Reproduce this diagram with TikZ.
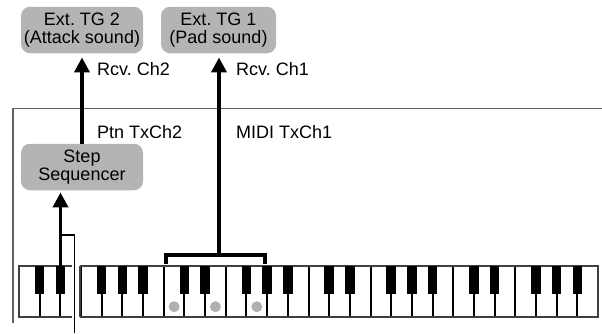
\documentclass[tikz,border=0pt]{standalone}
\usepackage{fontspec}
\setmainfont{Liberation Sans}
\usetikzlibrary{arrows.meta}
\definecolor{boxgray}{HTML}{B4B4B4}
\definecolor{framegray}{HTML}{606060}
\definecolor{dotgray}{HTML}{B0B0B0}
\definecolor{kbborder}{HTML}{404040}
\frenchspacing
\begin{document}
\frenchspacing
\begin{tikzpicture}[x=1pt,y=-1pt,
  tg/.style={draw=none, fill=boxgray, rounded corners=9pt, minimum height=46.5pt,
    inner sep=0pt, align=center, font=\fontsize{18}{17.2}\selectfont},
  lbl/.style={anchor=base west, inner sep=0pt, font=\fontsize{18}{18}\selectfont},
  flow/.style={line width=3.6pt, -{Triangle[width=15pt,length=15pt]}},
  bracketline/.style={line width=3.2pt},
  tapline/.style={line width=1.5pt},
  whitekey/.style={draw=black, line width=2pt},
  blackkey/.style={fill=black},
  kbframe/.style={draw=kbborder, line width=2pt},
  dot/.style={fill=dotgray}]
\useasboundingbox (0,0) rectangle (602,333);

% outer frame (instrument panel)
\draw[framegray, line width=1.5pt] (13,323) -- (13,108.5) -- (602,108.5);

% keyboard
\def\kw{20.68}
\foreach \i in {1,...,27} {
  \draw[whitekey] ({19+\i*\kw},266) -- ({19+\i*\kw},317);
}
\draw[kbframe] (19,266) rectangle (598,317);
\foreach \o in {0,...,3} {
  \foreach \b in {1,2,4,5,6} {
    \fill[blackkey] ({19+(7*\o+\b)*\kw-4.75},266) rectangle ++(9.5,28);
  }
}
% split gap
\fill[white] (71.5,262) rectangle (79.5,320);
\draw[kbframe] (79.5,266) -- (79.5,317);

% chord dots
\fill[dot] ({19+7*\kw+\kw/2},306.7) circle (5.5pt);
\fill[dot] ({19+9*\kw+\kw/2},306.7) circle (5.5pt);
\fill[dot] ({19+11*\kw+\kw/2},306.7) circle (5.5pt);

% boxes
\node[tg, minimum width=122pt] (tg2) at (82,30) {Ext. TG 2\\(Attack sound)};
\node[tg, minimum width=115pt] (tg1) at (218.5,30) {Ext. TG 1\\(Pad sound)};
\node[tg, minimum width=122pt] (seq) at (82,167) {Step\\Sequencer};

% labels
\node[lbl] (r2) at (97,75) {Rcv. Ch2};
\node[lbl] (r1) at (236,75) {Rcv. Ch1};
\node[lbl] (p2) at (97,138.3) {Ptn TxCh2};
\node[lbl] (m1) at (236,138.3) {MIDI TxCh1};

% bracket and arrow to TG1
\coordinate (brL) at (166,264);
\coordinate (brR) at (265,264);
\coordinate (brM) at (219,255);
\draw[bracketline] (brL) |- (brM) -| (brR);
\draw[flow, shorten >=4pt] (brM) -- (brM |- tg1.south);

% sequencer to TG2
\draw[flow, shorten >=4pt] (seq.north) -- (tg2.south);

% keyboard to sequencer
\coordinate (kb3) at (60.5,266);
\draw[flow, shorten >=2pt] (kb3) -- (kb3 |- seq.south);

% split point line
\coordinate (tap) at (60.5,235);
\coordinate (tl) at (74.5,333);
\draw[tapline] (tap) -| (tl);
\end{tikzpicture}
\end{document}
